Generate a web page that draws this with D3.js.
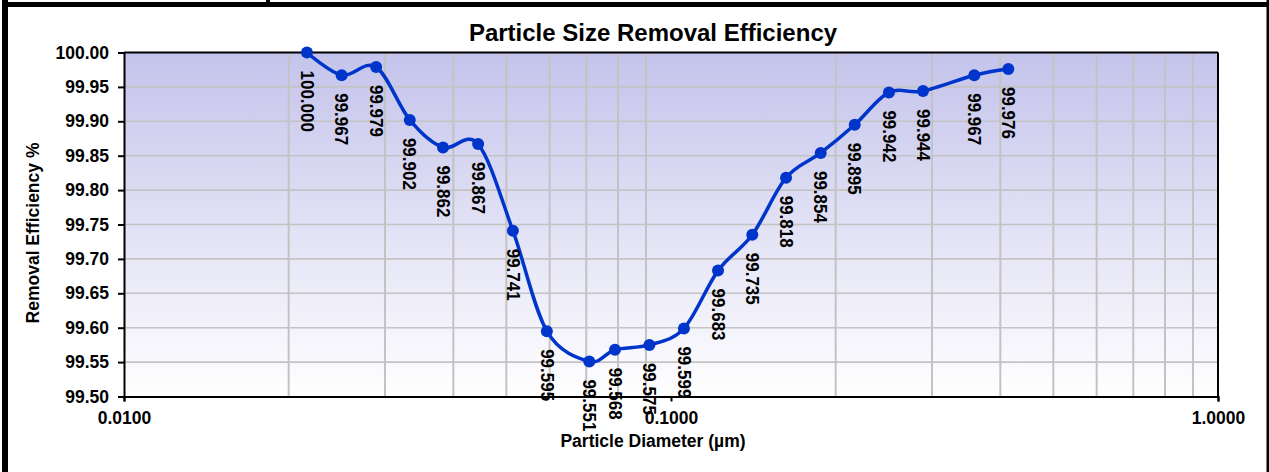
<!DOCTYPE html>
<html>
<head>
<meta charset="utf-8">
<script src="https://cdn.jsdelivr.net/npm/d3@7"></script>
<style>
  html, body { margin: 0; padding: 0; background: #fff; }
  svg { display: block; }
  text { font-family: "Liberation Sans", Arial, sans-serif; }
</style>
</head>
<body>
<svg id="chart" width="1269" height="472"></svg>
<script>
// ---- Data ----
const diameters = [0.0216, 0.0250, 0.0289, 0.0333, 0.0383, 0.0444, 0.0514, 0.0593, 0.0709, 0.0790,
                   0.0913, 0.1056, 0.1219, 0.1408, 0.1623, 0.1878, 0.2167, 0.2503, 0.2889, 0.3585, 0.4137];
const efficiency = [100.000, 99.967, 99.979, 99.902, 99.862, 99.867, 99.741, 99.595, 99.551, 99.568,
                    99.575, 99.599, 99.683, 99.735, 99.818, 99.854, 99.895, 99.942, 99.944, 99.967, 99.976];
const xTickValues = [0.01, 0.1, 1];
const xTickLabels = ["0.0100", "0.1000", "1.0000"];
const yTickValues = [99.50, 99.55, 99.60, 99.65, 99.70, 99.75, 99.80, 99.85, 99.90, 99.95, 100.00];
const xGridValues = [0.02, 0.03, 0.04, 0.05, 0.06, 0.07, 0.08, 0.09, 0.2, 0.3, 0.4, 0.5, 0.6, 0.7, 0.8, 0.9];
const chartTitle = "Particle Size Removal Efficiency";
const xTitle = "Particle Diameter (µm)";
const yTitle = "Removal Efficiency %";

// ---- Layout ----
const W = 1269, H = 472;
const plot = { left: 124, right: 1218, top: 52.5, bottom: 396.5 };

const svg = d3.select("#chart");

// outer frame
svg.append("rect").attr("x", 2).attr("y", 0).attr("width", 6).attr("height", H).attr("fill", "#000");
svg.append("rect").attr("x", 2).attr("y", 2).attr("width", 1266).attr("height", 5).attr("fill", "#000");
svg.append("rect").attr("x", 1266.5).attr("y", 0).attr("width", 2.5).attr("height", H).attr("fill", "#000");
svg.append("rect").attr("x", 266).attr("y", 0).attr("width", 4).attr("height", 3).attr("fill", "#000");

const x = d3.scaleLog().domain([0.01, 1]).range([plot.left, plot.right]);
const y = d3.scaleLinear().domain([99.5, 100.0]).range([plot.bottom, plot.top]);

// gradient background
const defs = svg.append("defs");
const grad = defs.append("linearGradient").attr("id", "bg").attr("x1", 0).attr("y1", 0).attr("x2", 0).attr("y2", 1);
grad.append("stop").attr("offset", "0%").attr("stop-color", "#c4c3eb");
grad.append("stop").attr("offset", "100%").attr("stop-color", "#ffffff");

svg.append("rect")
  .attr("x", plot.left).attr("y", plot.top)
  .attr("width", plot.right - plot.left).attr("height", plot.bottom - plot.top)
  .attr("fill", "url(#bg)");

// gridlines
const grid = svg.append("g").attr("stroke", "#c3c3c3");
grid.selectAll("line.h").data(yTickValues.slice(1, -1)).join("line")
  .attr("x1", plot.left).attr("x2", plot.right)
  .attr("y1", d => y(d)).attr("y2", d => y(d))
  .attr("stroke-width", 1.6);
grid.selectAll("line.v").data(xGridValues).join("line")
  .attr("x1", d => x(d)).attr("x2", d => x(d))
  .attr("y1", plot.top).attr("y2", plot.bottom)
  .attr("stroke-width", 2);

// plot border (top, right)
svg.append("line").attr("x1", plot.left).attr("x2", plot.right).attr("y1", plot.top).attr("y2", plot.top)
  .attr("stroke", "#000").attr("stroke-width", 2);
svg.append("line").attr("x1", plot.right).attr("x2", plot.right).attr("y1", plot.top).attr("y2", plot.bottom)
  .attr("stroke", "#000").attr("stroke-width", 2);

// axes
const yAxis = d3.axisLeft(y).tickValues(yTickValues).tickFormat(d3.format(".2f")).tickSize(6).tickPadding(9);
const gy = svg.append("g").attr("transform", `translate(${plot.left},0)`).call(yAxis);
gy.select(".domain").attr("stroke", "#000").attr("stroke-width", 2);
gy.selectAll(".tick line").attr("stroke", "#000").attr("stroke-width", 2);
gy.selectAll(".tick text").attr("font-size", "17.5px").attr("font-weight", "bold").attr("fill", "#000")
  .attr("font-family", "Liberation Sans, Arial, sans-serif");

const xAxis = d3.axisBottom(x).tickValues(xTickValues).tickFormat((d, i) => xTickLabels[i]).tickSize(5).tickPadding(10);
const gx = svg.append("g").attr("transform", `translate(0,${plot.bottom})`).call(xAxis);
gx.select(".domain").attr("stroke", "#000").attr("stroke-width", 2);
gx.selectAll(".tick line").attr("stroke", "#000").attr("stroke-width", 2);
gx.selectAll(".tick text").attr("font-size", "17.5px").attr("font-weight", "bold").attr("fill", "#000")
  .attr("font-family", "Liberation Sans, Arial, sans-serif");

// data
const pts = diameters.map((d, i) => ({ d, e: efficiency[i] }));
const line = d3.line().x(p => x(p.d)).y(p => y(p.e)).curve(d3.curveCardinal.tension(0));
svg.append("path").datum(pts).attr("d", line)
  .attr("fill", "none").attr("stroke", "#0035cc").attr("stroke-width", 3.5).attr("stroke-linejoin", "round");
svg.selectAll("circle.pt").data(pts).join("circle")
  .attr("cx", p => x(p.d)).attr("cy", p => y(p.e)).attr("r", 6).attr("fill", "#0035cc");

// data labels (rotated, reading downward)
svg.selectAll("text.lbl").data(pts).join("text")
  .attr("transform", p => `translate(${x(p.d)},${y(p.e) + 18}) rotate(90) scale(1,1.12)`)
  .attr("dominant-baseline", "central")
  .attr("text-anchor", "start")
  .attr("font-size", "17px").attr("font-weight", "bold").attr("fill", "#000")
  .text(p => p.e.toFixed(3));

// titles
svg.append("text").attr("x", 653).attr("y", 41).attr("text-anchor", "middle")
  .attr("font-size", "24px").attr("font-weight", "bold").text(chartTitle);
svg.append("text").attr("x", 653).attr("y", 447).attr("text-anchor", "middle")
  .attr("font-size", "17.5px").attr("font-weight", "bold").text(xTitle);
svg.append("text").attr("transform", "translate(39,233) rotate(-90)").attr("text-anchor", "middle")
  .attr("font-size", "17.5px").attr("font-weight", "bold").text(yTitle);
</script>
</body>
</html>
